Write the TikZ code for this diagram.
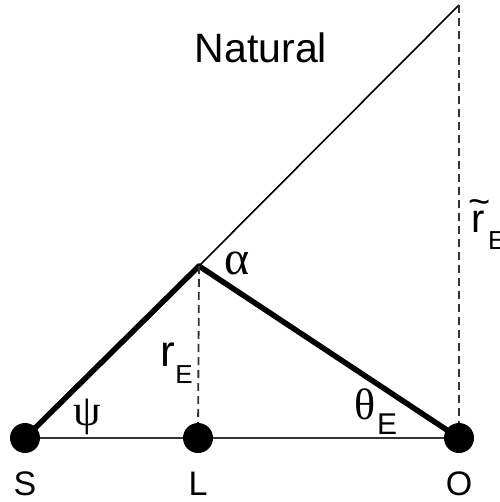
\documentclass[tikz,border=0pt]{standalone}
\usepackage{fontspec}
\setmainfont{Liberation Sans}
\newfontfamily\greekfont{Liberation Serif}
\newcommand{\fsz}[1]{\fontsize{#1}{#1}\selectfont}
\begin{document}
\begin{tikzpicture}[x=1pt,y=-1pt,
  dot/.style={circle,fill=black,inner sep=0pt,minimum size=30pt},
  thickline/.style={line width=5.5pt,line cap=round,line join=round},
  thinline/.style={line width=2pt,black!80},
  dashline/.style={line width=1.8pt,black!80,dash pattern=on 8pt off 5pt},
  lbl/.style={inner sep=0pt,text=black}]
\useasboundingbox (0,0) rectangle (499,502);
\coordinate (s) at (25,438);
\coordinate (l) at (198,438);
\coordinate (o) at (459,438);
\coordinate (A) at (199,266);
\coordinate (T) at (459,5);
% thin lines
\draw[thinline] (s) -- (o);
\draw[line width=1.6pt] (A) -- (T);
% thick lines
\draw[thickline] (s) -- (A) -- (o);
% dots
\node[dot] (S) at (s) {};
\node[dot] (L) at (l) {};
\node[dot] (O) at (o) {};
% dashed
\draw[dashline] (A) -- (L);
\draw[dashline] (T) -- (O);
% labels
\node[lbl,anchor=base] (nat) at (261,63) {\fsz{41}Natural};
\node[lbl,anchor=base] (lS) at (25,495) {\fsz{34}S};
\node[lbl,anchor=base] (lL) at (198,495) {\fsz{34}L};
\node[lbl,anchor=base] (lO) at (459,495) {\fsz{34}O};
\node[lbl] (alpha) at (237,263) {\greekfont\fsz{48}α};
\node[lbl] (psi) at (87,417) {\greekfont\fsz{44}ψ};
\node[lbl] (theta) at (365,404) {\greekfont\fsz{44}θ};
\node[lbl] (thE) at (387,424) {\fsz{30}E};
\node[lbl] (r) at (168,355) {\fsz{44}r};
\node[lbl] (rE) at (184,375) {\fsz{26}E};
\node[lbl,anchor=base west] (rt) at (471,233) {\fsz{40}\rlap{\hspace{-3pt}\raisebox{18pt}{\fsz{38}\textasciitilde}}r};
\node[lbl,anchor=base west] (rtE) at (488,249) {\fsz{26}E};
\end{tikzpicture}
\end{document}
